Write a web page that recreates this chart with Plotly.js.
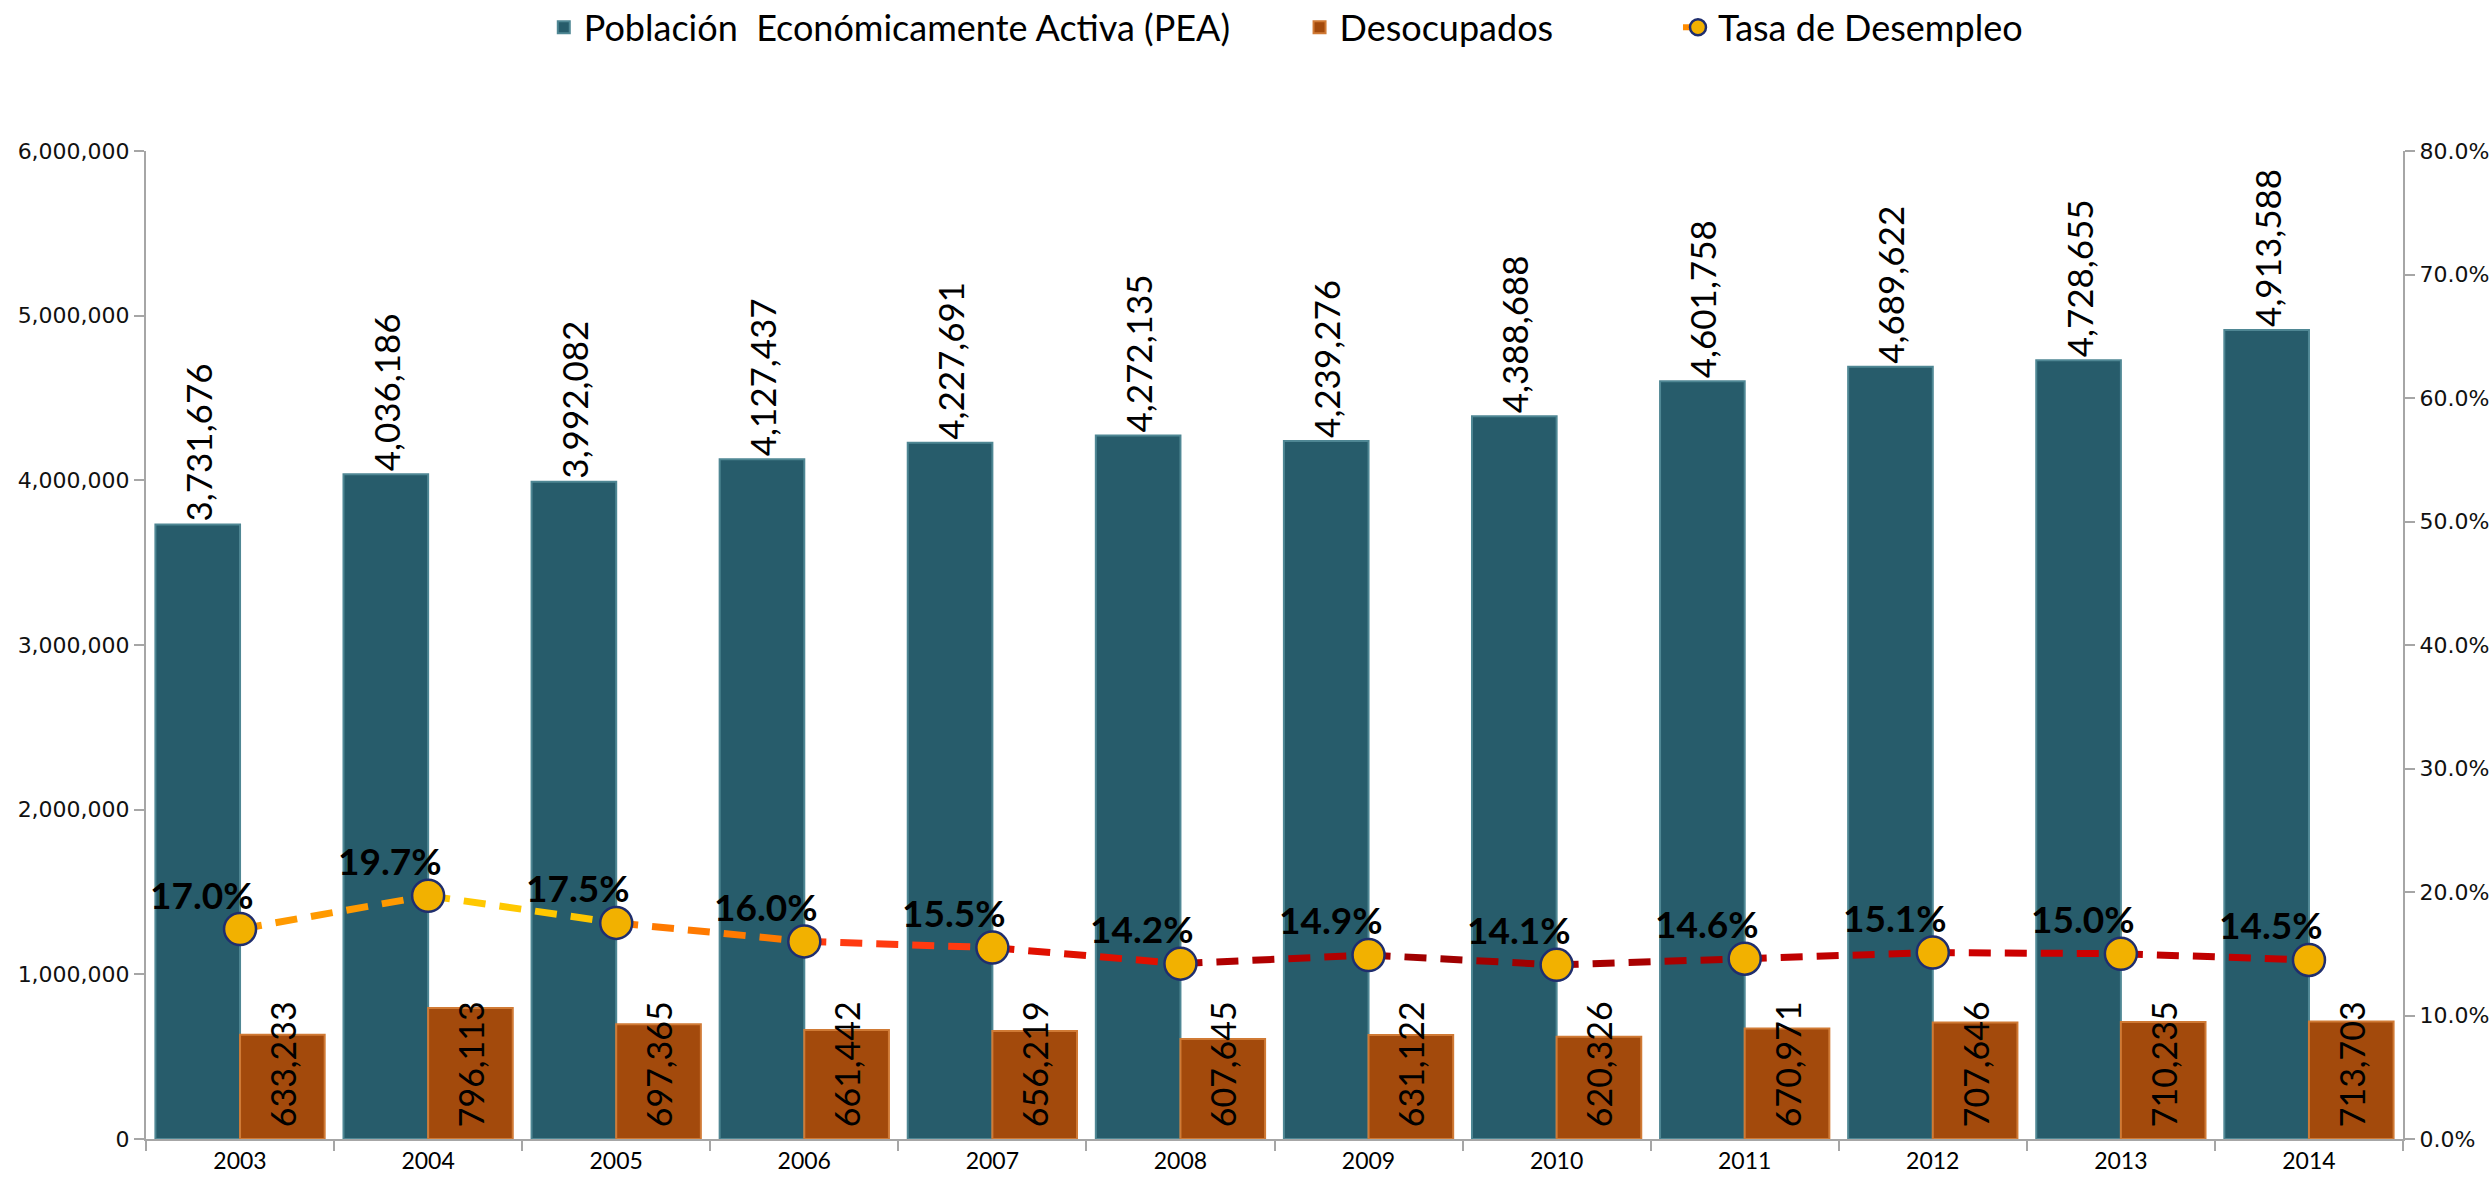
<!DOCTYPE html>
<html>
<head>
<meta charset="utf-8">
<script src="https://cdn.plot.ly/plotly-3.0.1.min.js"></script>
<style>
html,body{margin:0;padding:0;background:#fff;}
#chart{width:2490px;height:1186px;}
</style>
</head>
<body>
<div id="chart"></div>
<script>
const years = ["2003","2004","2005","2006","2007","2008","2009","2010","2011","2012","2013","2014"];
const pea = [3731676,4036186,3992082,4127437,4227691,4272135,4239276,4388688,4601758,4689622,4728655,4913588];
const desocupados = [633233,796113,697365,661442,656219,607645,631122,620326,670971,707646,710235,713703];
const tasa = [0.170,0.197,0.175,0.160,0.155,0.142,0.149,0.141,0.146,0.151,0.150,0.145];
const segColors = ["#FF9A00","#FFC800","#FF7A00","#FF3A10","#E01000","#B00000","#A00000","#A80000","#C00000","#CC0000","#C00000"];

const fmt = v => v.toLocaleString('en-US');
const NB = '\u00A0';

const traces = [];
traces.push({
  type:'bar', name:'Población'+NB+' Económicamente Activa (PEA)'+NB.repeat(7),
  x:years, y:pea,
  marker:{color:'#275C6B', line:{color:'#4F8794', width:2}},
  text:pea.map(v=>fmt(v)+NB+NB), textposition:'outside', textangle:-90,
  textfont:{family:'Lato', size:35, color:'#000'},
  constraintext:'none', cliponaxis:false
});
traces.push({
  type:'bar', name:'Desocupados'+NB.repeat(13),
  x:years, y:desocupados,
  marker:{color:'#A34A0C', line:{color:'#D07A35', width:2}},
  text:desocupados.map(v=>NB+fmt(v)), textposition:'inside', insidetextanchor:'start', textangle:-90,
  textfont:{family:'Lato', size:34, color:'#000'},
  constraintext:'none', cliponaxis:false
});
traces.push({
  type:'scatter', mode:'lines+markers', name:'Tasa de Desempleo',
  x:[null], y:[null], yaxis:'y2',
  line:{color:'#FF8C00', width:6, dash:'dash'},
  marker:{size:28, color:'#F2B100', line:{color:'#1F2E6E', width:2.5}}
});
for (let i=0;i<years.length-1;i++){
  traces.push({
    type:'scatter', mode:'lines', showlegend:false, hoverinfo:'skip',
    x:[years[i],years[i+1]], y:[tasa[i],tasa[i+1]], yaxis:'y2',
    line:{color:segColors[i], width:7, dash:'22px,14px'}
  });
}
traces.push({
  type:'scatter', mode:'markers', showlegend:false,
  x:years, y:tasa, yaxis:'y2', cliponaxis:false,
  marker:{size:32, color:'#F2B100', line:{color:'#1F2E6E', width:2.5}}
});

const annotations = years.map((yr,i)=>({
  x:i, y:tasa[i], yref:'y2', xref:'x',
  text:'<b>'+(tasa[i]*100).toFixed(1)+'%</b>',
  showarrow:false, xshift:-38, yshift:35,
  font:{family:'Lato', size:37, color:'#000'}
}));

const axisFont = {family:'DejaVu Sans', size:22, color:'#111'};
const layout = {
  width:2490, height:1186,
  margin:{l:146, r:87, t:151, b:47},
  paper_bgcolor:'#fff', plot_bgcolor:'#fff',
  barmode:'group', bargap:0.1, bargroupgap:0,
  showlegend:true,
  legend:{orientation:'h', xref:'paper', x:0.505, xanchor:'center', yref:'container', y:0.977, yanchor:'middle',
          font:{family:'Lato', size:36, color:'#000'}, traceorder:'normal'},
  xaxis:{type:'category', range:[-0.5, years.length-0.5], autorange:false, showgrid:false, showline:true, linecolor:'#A6A6A6', linewidth:2,
         ticks:'outside', tickson:'boundaries', ticklen:10, tickcolor:'#A6A6A6', tickwidth:2,
         tickfont:{family:'Lato', size:23, color:'#000'}},
  yaxis:{range:[0,6000000], autorange:false, dtick:1000000, tickformat:',d', showgrid:false, zeroline:false,
         showline:true, linecolor:'#A6A6A6', linewidth:2, ticks:'outside', ticklen:10,
         tickcolor:'#A6A6A6', tickwidth:2, tickfont:axisFont},
  yaxis2:{overlaying:'y', side:'right', range:[0,0.8], autorange:false, dtick:0.1, tickformat:'.1%',
          showgrid:false, zeroline:false, showline:true, linecolor:'#A6A6A6', linewidth:2,
          ticks:'outside', ticklen:10, tickcolor:'#A6A6A6', tickwidth:2, tickfont:axisFont},
  annotations:annotations
};
Plotly.newPlot('chart', traces, layout, {displayModeBar:false, staticPlot:true});
</script>
</body>
</html>
